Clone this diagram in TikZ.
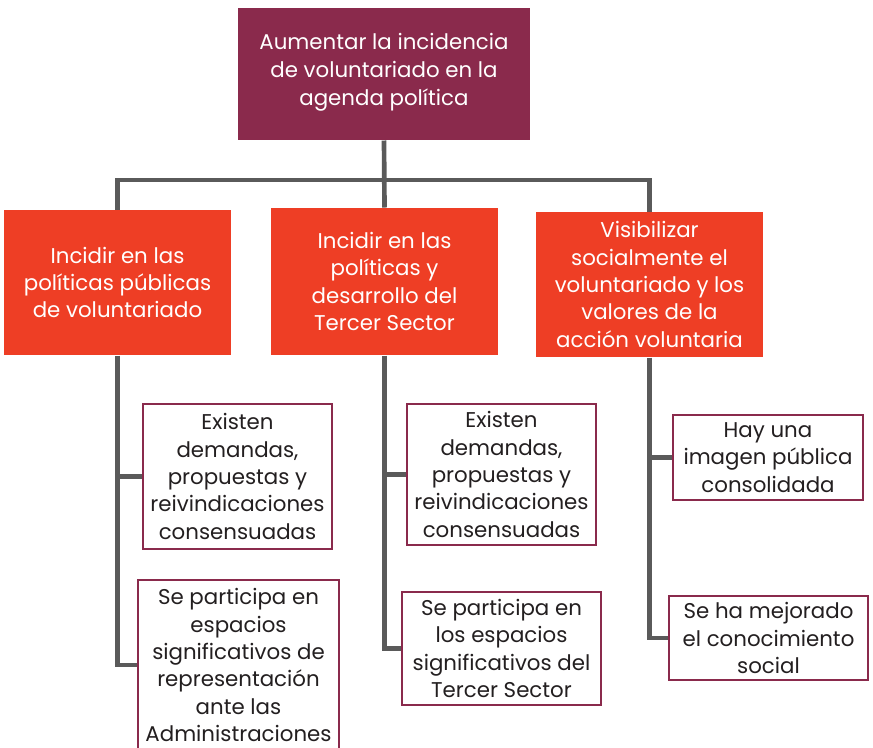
\documentclass[tikz,border=0pt]{standalone}
\usepackage{fontspec}
\setmainfont{Poppins}
\usetikzlibrary{backgrounds}

\definecolor{vino}{HTML}{8A2A4C}
\definecolor{rojo}{HTML}{EE3E25}
\definecolor{gris}{HTML}{5A5A5A}
\definecolor{tinta}{HTML}{231F20}

\tikzset{every picture/.style={line width=0.75pt}}
\tikzset{
  meta/.style={fill=vino, text=white, align=center, inner sep=0pt, font=\fontsize{16}{20.5}\selectfont},
  linea/.style={fill=rojo, text=white, align=center, inner sep=0pt, font=\fontsize{16}{20.5}\selectfont},
  logro/.style={draw=vino, line width=1.5pt, fill=white, text=tinta, align=center, inner sep=0pt, font=\fontsize{16}{20.5}\selectfont},
  rama/.style={draw=gris, line width=3.5pt}
}

\begin{document}
\begin{tikzpicture}[x=0.75pt,y=0.75pt,yscale=-1,xscale=1]

\useasboundingbox (0,0) rectangle (873,747);

% objetivo general
\node [meta, minimum width=292*0.75pt, minimum height=132*0.75pt] (obj) at (384,74) {};
\node [text=white, align=center, inner sep=0pt, font=\fontsize{16}{21}\selectfont] (objtxt) at (384,72) {Aumentar la incidencia\\de voluntariado en la\\agenda política};

% lineas estrategicas
\node [linea, minimum width=227*0.75pt, minimum height=145*0.75pt] (lin1) at (117.5,282.5) {Incidir en las\\políticas públicas\\de voluntariado};
\node [linea, minimum width=227*0.75pt, minimum height=147*0.75pt] (lin2) at (384.5,281.5) {Incidir en las\\políticas y\\desarrollo del\\Tercer Sector};
\node [linea, minimum width=227*0.75pt, minimum height=145*0.75pt] (lin3) at (649.5,284.5) {Visibilizar\\socialmente el\\voluntariado y los\\valores de la\\acción voluntaria};

% resultados
\node [logro, minimum width=189*0.75pt, minimum height=145*0.75pt] (res1a) at (237.5,476.5) {Existen\\demandas,\\propuestas y\\reivindicaciones\\consensuadas};
\node [logro, minimum width=201*0.75pt, minimum height=170*0.75pt] (res1b) at (238.5,665) {Se participa en\\espacios\\significativos de\\representación\\ante las\\Administraciones};
\node [logro, minimum width=189*0.75pt, minimum height=141*0.75pt] (res2a) at (501.5,474.5) {Existen\\demandas,\\propuestas y\\reivindicaciones\\consensuadas};
\node [logro, minimum width=199*0.75pt, minimum height=113*0.75pt] (res2b) at (501.5,648.5) {Se participa en\\los espacios\\significativos del\\Tercer Sector};
\node [logro, minimum width=190*0.75pt, minimum height=85*0.75pt] (res3a) at (768,457.5) {Hay una\\imagen pública\\consolidada};
\node [logro, minimum width=199*0.75pt, minimum height=84*0.75pt] (res3b) at (768.5,638) {Se ha mejorado\\el conocimiento\\social};

\coordinate (bus) at (384,180);

\begin{scope}[on background layer]
\draw [rama] (obj.south) -- (lin2.north);
\draw [rama] (lin1.north) |- (bus) -| (lin3.north);
\draw [rama] (lin1.south) |- (res1b.west);
\draw [rama] (lin1.south |- res1a.west) -- (res1a.west);
\draw [rama] (lin2.south) |- (res2b.west);
\draw [rama] (lin2.south |- res2a.west) -- (res2a.west);
\draw [rama] (lin3.south) |- (res3b.west);
\draw [rama] (lin3.south |- res3a.west) -- (res3a.west);
\end{scope}

\end{tikzpicture}
\end{document}
